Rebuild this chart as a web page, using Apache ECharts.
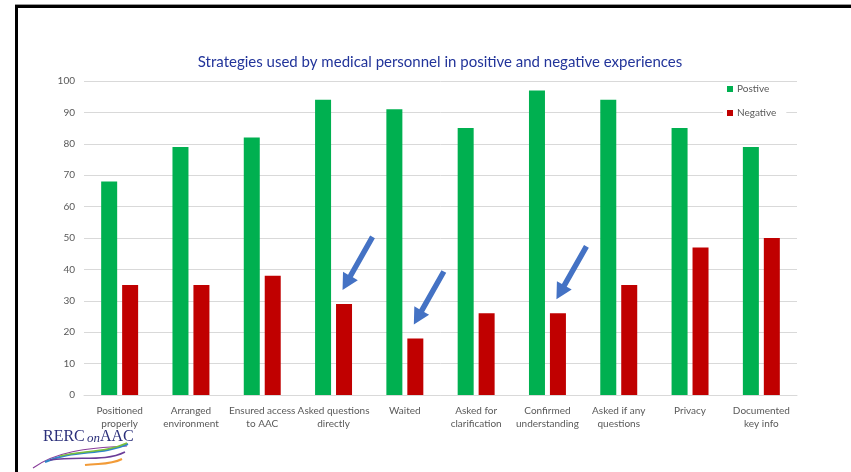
<!DOCTYPE html>
<html>
<head>
<meta charset="utf-8">
<script src="https://cdn.jsdelivr.net/npm/echarts@6/dist/echarts.min.js"></script>
<style>
  html, body { margin: 0; padding: 0; background: #fff; }
  #chart { width: 851px; height: 472px; }
</style>
</head>
<body>
<div id="chart"></div>
<script>
// Strategies and the share of experiences in which each was used
const categories = [
  'Positioned\nproperly',
  'Arranged\nenvironment',
  'Ensured access\nto AAC',
  'Asked questions\ndirectly',
  'Waited',
  'Asked for\nclarification',
  'Confirmed\nunderstanding',
  'Asked if any\nquestions',
  'Privacy',
  'Documented\nkey info'
];
const positive = [68, 79, 82, 94, 91, 85, 97, 94, 85, 79];
const negative = [35, 35, 38, 29, 18, 26, 26, 35, 47, 50];
const yTicks = [0, 10, 20, 30, 40, 50, 60, 70, 80, 90, 100];
// strategies highlighted with an arrow pointing at the negative bar
const highlighted = [3, 4, 6];

const GREEN = '#00B050';
const RED = '#C00000';
const FONT = 'Lato, "Open Sans", sans-serif';

const chart = echarts.init(document.getElementById('chart'), null, { renderer: 'canvas' });

const option = {
  animation: false,
  backgroundColor: '#ffffff',
  title: {
    text: 'Strategies used by medical personnel in positive and negative experiences',
    left: 435,
    top: 50,
    textAlign: 'center',
    textStyle: { color: '#22349A', fontSize: 15, fontWeight: 'normal', fontFamily: FONT }
  },
  legend: {
    orient: 'vertical',
    left: 723,
    top: 82,
    itemWidth: 6,
    itemHeight: 6,
    itemGap: 14,
    icon: 'rect',
    textStyle: { color: '#595959', fontSize: 10, fontFamily: FONT, padding: [0, 0, 0, -1] },
    backgroundColor: '#ffffff',
    padding: [2, 10, 2, 4],
    data: ['Postive', 'Negative']
  },
  grid: { left: 84, right: 54, top: 81, bottom: 77 },
  xAxis: {
    type: 'category',
    data: categories,
    axisLine: { lineStyle: { color: '#D9D9D9', width: 1 } },
    axisTick: { show: false },
    axisLabel: {
      color: '#595959', fontSize: 10, fontFamily: FONT, lineHeight: 13,
      margin: 9, interval: 0
    }
  },
  yAxis: {
    type: 'value',
    min: yTicks[0],
    max: yTicks[yTicks.length - 1],
    interval: 10,
    axisLine: { show: false },
    axisTick: { show: false },
    splitLine: { lineStyle: { color: '#D9D9D9', width: 1 } },
    axisLabel: { color: '#595959', fontSize: 10, fontFamily: FONT, margin: 9 }
  },
  series: [
    {
      name: 'Postive', type: 'bar', data: positive,
      barWidth: 16, barGap: '31%',
      itemStyle: { color: GREEN }
    },
    {
      name: 'Negative', type: 'bar', data: negative,
      barWidth: 16,
      itemStyle: { color: RED }
    }
  ]
};
chart.setOption(option);

// Builds an arrow polygon from tail (x1,y1) to tip (x2,y2)
function arrowPoints(x1, y1, x2, y2, shaft, headW, headL) {
  const dx = x2 - x1, dy = y2 - y1;
  const len = Math.hypot(dx, dy);
  const ux = dx / len, uy = dy / len;
  const px = -uy, py = ux;
  const bx = x2 - ux * headL, by = y2 - uy * headL;
  const s = shaft / 2, h = headW / 2;
  return [
    [x1 + px * s, y1 + py * s],
    [bx + px * s, by + py * s],
    [bx + px * h, by + py * h],
    [x2, y2],
    [bx - px * h, by - py * h],
    [bx - px * s, by - py * s],
    [x1 - px * s, y1 - py * s]
  ];
}

function buildGraphics() {
  const g = [];
  // slide frame: black rule along the top and the left edge
  g.push({ type: 'rect', shape: { x: 15, y: 4, width: 836, height: 1 }, style: { fill: '#9a9a9a' }, silent: true });
  g.push({ type: 'rect', shape: { x: 15, y: 5, width: 836, height: 3 }, style: { fill: '#000' }, silent: true });
  g.push({ type: 'rect', shape: { x: 15, y: 5, width: 3, height: 467 }, style: { fill: '#000' }, silent: true });

  // width of one category band, used to find the negative bar's centre
  const c0 = chart.convertToPixel({ xAxisIndex: 0 }, 0);
  const c1 = chart.convertToPixel({ xAxisIndex: 0 }, 1);
  const band = c1 - c0;
  const barShift = band * 0.14;

  // arrows pointing at the negative bars of highlighted strategies
  highlighted.forEach(i => {
    const top = chart.convertToPixel({ seriesIndex: 1 }, [i, negative[i]]);
    const tipX = top[0] + barShift - 1, tipY = top[1] - 14;
    const pts = arrowPoints(tipX + 30, tipY - 53, tipX, tipY, 5.5, 17, 16);
    g.push({ type: 'polygon', shape: { points: pts }, style: { fill: '#4472C4' }, silent: true, z: 10 });
  });

  // RERC on AAC logo
  g.push({ type: 'text', left: 43, top: 429, style: { text: 'RERC', fill: '#2B2F7A', font: '16px "Liberation Serif", serif' } });
  g.push({ type: 'text', left: 87, top: 432, style: { text: 'on', fill: '#2B2F7A', font: 'italic 13px "Liberation Serif", serif' } });
  g.push({ type: 'text', left: 100, top: 429, style: { text: 'AAC', fill: '#2B2F7A', font: '16px "Liberation Serif", serif' } });
  const swooshes = [
    { c: '#8A3D9A', pts: [[33, 468], [55, 452], [85, 448], [127, 446]], w: 1.2 },
    { c: '#2E86C8', pts: [[45, 462], [75, 449], [100, 456], [128, 444]], w: 2 },
    { c: '#7CBF3A', pts: [[60, 456], [85, 450], [105, 453], [127, 443]], w: 1.5 },
    { c: '#6A3C98', pts: [[50, 460], [80, 456], [105, 462], [125, 452]], w: 1.5 },
    { c: '#F29B38', pts: [[85, 465], [100, 463], [110, 465], [122, 459]], w: 2 }
  ];
  swooshes.forEach(s => {
    g.push({
      type: 'bezierCurve', silent: true,
      shape: { x1: s.pts[0][0], y1: s.pts[0][1], cpx1: s.pts[1][0], cpy1: s.pts[1][1],
               cpx2: s.pts[2][0], cpy2: s.pts[2][1], x2: s.pts[3][0], y2: s.pts[3][1] },
      style: { stroke: s.c, lineWidth: s.w, fill: null }
    });
  });
  return g;
}

chart.setOption({ graphic: buildGraphics() });
</script>
</body>
</html>
